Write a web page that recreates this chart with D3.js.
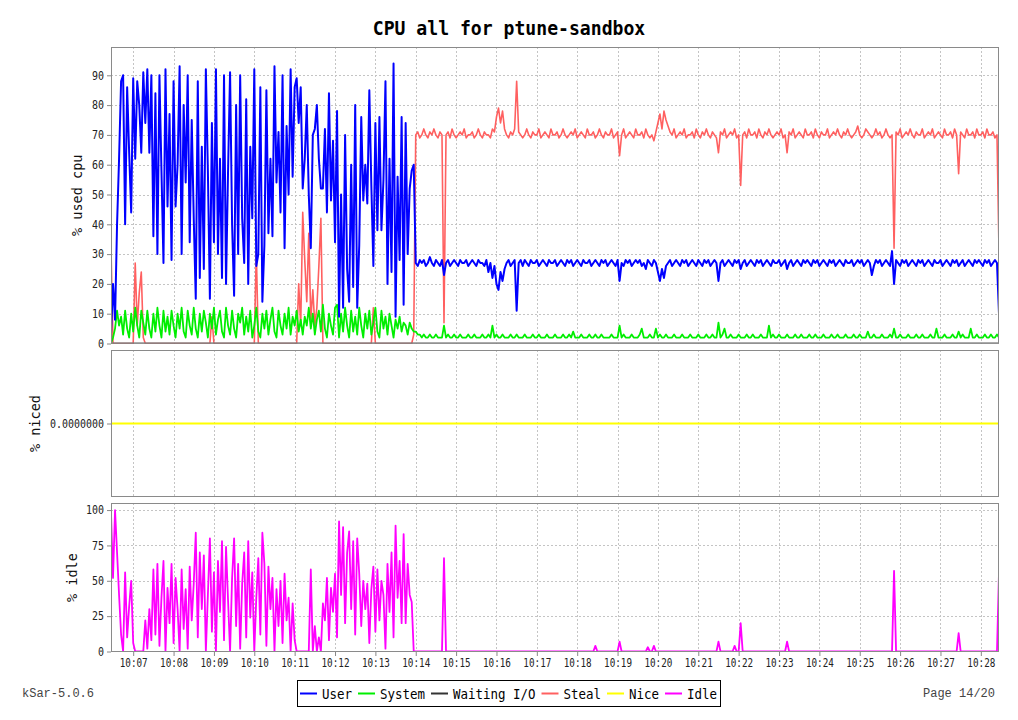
<!DOCTYPE html>
<html><head><meta charset="utf-8">
<script src="https://cdn.jsdelivr.net/npm/d3@7"></script>
<style>body{margin:0;background:#fff;}svg{display:block;}</style>
</head><body>
<svg id="chart" width="1018" height="720"></svg>
<script>
// ---------------- data ----------------
const chartTitle = "CPU all for ptune-sandbox";
const startTime = "10:06:27";
const stepSeconds = 3;
const seriesNames = ["User", "System", "Waiting I/O", "Steal", "Nice", "Idle"];
const seriesColors = ["#0000ff", "#00ee00", "#333333", "#ff6060", "#ffff00", "#ff00ff"];
const usedTicks = [0, 10, 20, 30, 40, 50, 60, 70, 80, 90];
const nicedTicks = [0];
const idleTicks = [0, 25, 50, 75, 100];

const user = [
3,20,8,40,62,88,90,40,86,64, 44,89,62,88,80,64,91,74,92,64, 90,36,84,30,90,58,27,92,46,77,
28,88,46,60,93,30,80,54,90,34, 75,42,15,88,22,66,25,92,58,15, 74,34,92,30,62,22,90,20,58,91,
40,16,80,30,90,42,27,82,20,66, 42,92,26,30,86,14,33,85,37,62, 36,93,54,71,44,90,32,73,50,92,
56,86,89,74,86,52,62,80,50,32, 70,72,80,62,52,52,72,44,84,48, 68,34,78,9,50,12,70,25,14,60,
19,80,12,33,76,48,60,47,85,53, 26,74,38,76,38,55,88,20,62,24, 94,9,56,28,76,13,74,30,52,58,
60,
27,26,28,27,28,26,27,29,27,26, 28,27,26,28,23,27,28,26,27,28, 27,26,28,27,27,28,26,27,28,27,
26,28,27,27,26,28,24,27,22,26, 20,18,24,21,25,27,28,26,27,28, 11,27,28,26,28,27,26,28,27,27,
28,26,27,28,27,26,28,27,27,28, 26,27,28,27,26,28,27,28,26,27, 28,27,26,28,27,27,28,26,27,28,
27,26,28,27,28,26,27,28,27,26, 28,21,27,26,28,27,28,26,27,28, 27,28,26,27,25,28,27,26,28,27,
24,21,25,22,26,27,28,26,27,28, 27,26,28,27,28,26,27,28,27,26, 28,27,26,28,27,28,26,27,28,27,
21,27,28,26,27,28,27,26,28,27, 28,25,27,28,26,27,28,27,26,28, 27,28,26,27,28,27,26,28,27,27,
28,26,27,28,25,27,28,26,27,28, 27,26,28,27,28,27,26,28,27,28, 26,27,28,27,26,28,27,28,26,27,
28,27,26,28,27,27,28,26,27,28, 27,28,26,27,28,27,23,26,28,27, 28,26,27,28,27,26,31,20,28,27,
26,28,27,28,26,27,28,27,26,28, 27,28,26,27,28,27,26,28,27,27, 28,26,27,28,27,26,28,27,28,26,
27,28,26,27,28,27,26,28,27,28, 27,26,28,27,28,26,27,28,27,10
];

const system = [
0,2,5,11,6,9,3,11,5,2, 10,4,12,6,2,11,7,3,11,5, 2,10,4,12,6,2,11,4,9,3,
11,6,2,10,5,12,4,2,11,6, 3,12,5,2,10,4,11,7,2,10, 5,12,3,8,11,4,2,12,6,3,
11,5,2,10,7,12,3,9,4,11, 2,6,12,4,2,10,5,11,3,8, 12,4,2,11,6,3,10,5,12,3,
9,6,11,4,8,3,9,6,12,5, 10,3,8,11,4,13,5,2,10,6, 3,12,13,2,10,4,12,6,2,11,
4,9,3,12,6,2,10,5,11,3, 7,12,4,2,11,5,9,3,10,6, 2,8,5,9,4,7,6,3,7,5,
4,
4,3,3,2,3,2,2,3,2,2, 3,2,2,2,6,2,3,2,2,3, 2,2,3,2,2,2,3,2,2,3,
2,2,2,3,2,2,3,2,6,2, 3,2,2,3,2,2,2,3,2,2, 3,2,2,2,3,2,2,2,3,2,
2,3,2,2,2,3,2,2,2,3, 2,2,2,3,2,2,3,2,4,2, 2,2,3,2,2,2,3,2,2,3,
2,2,3,2,2,2,2,3,2,2, 2,6,2,3,2,2,2,3,2,2, 2,3,5,2,2,2,3,2,2,5,
2,3,2,2,3,2,2,2,3,2, 2,2,3,2,2,2,3,2,2,2, 3,2,2,2,3,2,2,3,2,2,
7,2,3,5,2,2,3,2,2,2, 3,2,2,2,3,2,2,3,2,2, 2,3,2,2,2,6,2,3,2,2,
3,2,2,2,3,2,2,2,3,2, 2,3,2,2,2,3,2,2,3,2, 2,2,3,2,2,2,3,2,2,3,
2,2,2,3,2,2,2,3,2,2, 3,2,2,2,4,2,2,3,2,2, 2,3,2,2,2,3,2,5,2,2,
3,2,2,2,3,2,2,2,3,2, 2,3,2,2,2,3,2,2,5,2, 2,2,3,2,2,2,3,2,2,4,
2,3,2,2,2,5,2,2,3,2, 2,2,3,2,2,3,2,2,3,2
];

const waitIO = [
0,0,0,0,0,0,0,0,0,0, 0,0,0,0,0,0,0,0,0,0, 0,0,0,0,0,0,0,0,0,0, 0,0,0,0,0,0,0,0,0,0,
0,0,0,0,0,0,0,0,0,0, 0,0,0,0,0,0,0,0,0,0, 0,0,0,0,0,0,0,0,0,0, 0,0,0,0,0,0,0,0,0,0,
0,0,0,0,0,0,0,0,0,0, 0,0,0,0,0,0,0,0,0,0, 0,0,0,0,0,0,0,0,0,0, 0,0,0,0,0,0,0,0,0,0,
0,0,0,0,0,0,0,0,0,0, 0,0,0,0,0,0,0,0,0,0, 0,0,0,0,0,0,0,0,0,0, 0,0,0,0,0,0,0,0,0,0,
0,0,0,0,0,0,0,0,0,0, 0,0,0,0,0,0,0,0,0,0, 0,0,0,0,0,0,0,0,0,0, 0,0,0,0,0,0,0,0,0,0,
0,0,0,0,0,0,0,0,0,0, 0,0,0,0,0,0,0,0,0,0, 0,0,0,0,0,0,0,0,0,0, 0,0,0,0,0,0,0,0,0,0,
0,0,0,0,0,0,0,0,0,0, 0,0,0,0,0,0,0,0,0,0, 0,0,0,0,0,0,0,0,0,0, 0,0,0,0,0,0,0,0,0,0,
0,0,0,0,0,0,0,0,0,0, 0,0,0,0,0,0,0,0,0,0, 0,0,0,0,0,0,0,0,0,0, 0,0,0,0,0,0,0,0,0,0,
0,0,0,0,0,0,0,0,0,0, 0,0,0,0,0,0,0,0,0,0, 0,0,0,0,0,0,0,0,0,0, 0,0,0,0,0,0,0,0,0,0,
0,0,0,0,0,0,0,0,0,0, 0,0,0,0,0,0,0,0,0,0, 0,0,0,0,0,0,0,0,0,0, 0,0,0,0,0,0,0,0,0,0,
0,0,0,0,0,0,0,0,0,0, 0,0,0,0,0,0,0,0,0,0, 0,0,0,0,0,0,0,0,0,0, 0,0,0,0,0,0,0,0,0,0,
0
];

const steal = [
32,0,0,0,0,0,0,0,0,0, 0,0,27,6,17,24,2,0,0,0, 0,0,0,0,0,0,0,0,0,0,
0,0,0,0,0,0,0,0,0,0, 0,0,0,0,0,0,0,0,0,0, 9,0,0,0,0,0,0,0,0,0,
0,0,0,0,0,0,0,0,0,0, 0,0,31,0,0,0,0,0,0,0, 0,0,0,0,0,0,0,0,0,0,
0,0,0,20,6,44,28,14,37,8, 18,6,12,26,42,0,0,0,0,0, 0,0,0,0,0,0,0,0,0,0,
0,0,0,0,0,0,0,0,0,0, 12,0,0,0,0,0,0,0,0,0, 0,0,0,0,0,0,0,0,0,0,
3,
70,71,69,70,72,70,69,71,70,72, 70,69,71,70,7,70,71,69,72,70, 69,70,71,70,72,69,70,70,71,69,
70,72,70,69,71,70,70,69,72,71, 76,79,74,78,72,70,69,71,70,72, 88,71,70,69,70,72,70,69,71,70,
70,72,69,70,71,70,69,72,70,70, 71,69,70,72,70,69,70,71,70,72, 69,70,71,70,69,72,70,70,71,69,
70,72,70,69,71,70,70,72,69,70, 71,63,70,72,69,70,71,70,69,72, 70,70,71,69,72,70,69,70,68,71,
74,77,72,78,75,73,71,70,72,69, 70,71,70,72,69,70,70,71,69,72, 70,69,71,70,72,70,69,71,70,69,
64,71,70,72,69,70,71,70,72,69, 70,53,70,71,69,72,70,70,71,69, 72,70,69,71,70,72,70,69,70,71,
70,72,69,70,64,71,70,72,69,70, 71,70,69,72,70,70,71,69,72,70, 69,71,70,70,72,69,70,71,70,72,
70,69,71,70,72,70,69,70,71,73, 70,69,70,72,71,70,69,70,72,70, 71,69,70,72,70,69,70,32,71,70,
72,69,70,71,70,72,70,69,71,70, 70,72,69,70,71,70,72,69,70,71, 70,69,72,70,70,71,69,72,70,57,
71,70,69,72,70,70,71,69,72,70, 70,71,69,72,70,70,71,69,70,31
];

const nice = [
0,0,0,0,0,0,0,0,0,0, 0,0,0,0,0,0,0,0,0,0, 0,0,0,0,0,0,0,0,0,0, 0,0,0,0,0,0,0,0,0,0,
0,0,0,0,0,0,0,0,0,0, 0,0,0,0,0,0,0,0,0,0, 0,0,0,0,0,0,0,0,0,0, 0,0,0,0,0,0,0,0,0,0,
0,0,0,0,0,0,0,0,0,0, 0,0,0,0,0,0,0,0,0,0, 0,0,0,0,0,0,0,0,0,0, 0,0,0,0,0,0,0,0,0,0,
0,0,0,0,0,0,0,0,0,0, 0,0,0,0,0,0,0,0,0,0, 0,0,0,0,0,0,0,0,0,0, 0,0,0,0,0,0,0,0,0,0,
0,0,0,0,0,0,0,0,0,0, 0,0,0,0,0,0,0,0,0,0, 0,0,0,0,0,0,0,0,0,0, 0,0,0,0,0,0,0,0,0,0,
0,0,0,0,0,0,0,0,0,0, 0,0,0,0,0,0,0,0,0,0, 0,0,0,0,0,0,0,0,0,0, 0,0,0,0,0,0,0,0,0,0,
0,0,0,0,0,0,0,0,0,0, 0,0,0,0,0,0,0,0,0,0, 0,0,0,0,0,0,0,0,0,0, 0,0,0,0,0,0,0,0,0,0,
0,0,0,0,0,0,0,0,0,0, 0,0,0,0,0,0,0,0,0,0, 0,0,0,0,0,0,0,0,0,0, 0,0,0,0,0,0,0,0,0,0,
0,0,0,0,0,0,0,0,0,0, 0,0,0,0,0,0,0,0,0,0, 0,0,0,0,0,0,0,0,0,0, 0,0,0,0,0,0,0,0,0,0,
0,0,0,0,0,0,0,0,0,0, 0,0,0,0,0,0,0,0,0,0, 0,0,0,0,0,0,0,0,0,0, 0,0,0,0,0,0,0,0,0,0,
0,0,0,0,0,0,0,0,0,0, 0,0,0,0,0,0,0,0,0,0, 0,0,0,0,0,0,0,0,0,0, 0,0,0,0,0,0,0,0,0,0,
0
];

const idle = [
98,52,100,70,40,12,0,56,10,32, 50,6,0,0,0,0,0,22,2,30, 8,58,12,62,4,38,64,0,45,20,
62,6,52,30,0,58,16,44,2,60, 22,48,84,10,70,30,68,0,40,80, 14,56,0,64,28,78,8,74,36,0,
52,80,18,62,2,48,70,10,78,24, 56,0,38,66,12,84,62,4,60,30, 52,0,44,18,50,6,55,22,38,0,
34,8,0,0,0,0,0,0,0,58, 0,18,0,10,0,34,22,52,8,45, 28,55,10,92,40,88,20,70,85,30,
78,12,80,55,18,50,30,48,6,44, 60,14,58,22,50,40,2,62,28,70, 10,89,38,64,20,83,20,62,40,35,
0,
0,0,0,0,0,0,0,0,0,0, 0,0,0,0,66,0,0,0,0,0, 0,0,0,0,0,0,0,0,0,0,
0,0,0,0,0,0,0,0,0,0, 0,0,0,0,0,0,0,0,0,0, 0,0,0,0,0,0,0,0,0,0,
0,0,0,0,0,0,0,0,0,0, 0,0,0,0,0,0,0,0,0,0, 0,0,0,0,0,0,0,0,0,4,
0,0,0,0,0,0,0,0,0,0, 0,7,0,0,0,0,0,0,0,0, 0,0,0,0,0,3,0,0,4,0,
0,0,0,0,0,0,0,0,0,0, 0,0,0,0,0,0,0,0,0,0, 0,0,0,0,0,0,0,0,0,0,
7,0,0,0,0,0,0,0,4,0, 0,20,0,0,0,0,0,0,0,0, 0,0,0,0,0,0,0,0,0,0,
0,0,0,0,7,0,0,0,0,0, 0,0,0,0,0,0,0,0,0,0, 0,0,0,0,0,0,0,0,0,0,
0,0,0,0,0,0,0,0,0,0, 0,0,0,0,0,0,0,0,0,0, 0,0,0,0,0,0,0,57,0,0,
0,0,0,0,0,0,0,0,0,0, 0,0,0,0,0,0,0,0,0,0, 0,0,0,0,0,0,0,0,0,13,
0,0,0,0,0,0,0,0,0,0, 0,0,0,0,0,0,0,0,0,56
];

// ---------------- drawing ----------------
const mono = "'DejaVu Sans Mono', monospace";
const svg = d3.select("#chart");
svg.append("rect").attr("width", 1018).attr("height", 720).attr("fill", "#fff");

const t0 = d3.timeParse("%H:%M:%S")(startTime);
const times = user.map((d, i) => d3.timeSecond.offset(t0, i * stepSeconds));
const plotL = 111, plotR = 999;
const x = d3.scaleTime().domain([times[0], times[times.length - 1]]).range([plotL, plotR]);
const minuteTicks = x.ticks(d3.timeMinute.every(1));

function condense(sel, perChar) {
  sel.each(function () {
    const t = d3.select(this);
    const s = t.text();
    t.attr("textLength", s.length * perChar).attr("lengthAdjust", "spacingAndGlyphs");
  });
}

const widths = [2, 1.8, 1.6, 1.6];
const panels = [
  { top: 47, bottom: 343.5, y: d3.scaleLinear().domain([0, 99.5]).range([343.5, 47]),
    ticks: usedTicks, fmt: d3.format("d"), label: "% used cpu", labelX: 82, hgrid: true,
    series: [3, 2, 1, 0].map(k => ({ vals: [user, system, waitIO, steal][k], color: seriesColors[k], width: widths[k] })) },
  { top: 350, bottom: 497, y: d3.scaleLinear().domain([-1, 1]).range([497, 350]),
    ticks: nicedTicks, fmt: d3.format(".7f"), label: "% niced", labelX: 40, hgrid: false,
    series: [{ vals: nice, color: seriesColors[4], width: 2 }] },
  { top: 503, bottom: 652, y: d3.scaleLinear().domain([0, 105]).range([651.5, 503]),
    ticks: idleTicks, fmt: d3.format("d"), label: "% idle", labelX: 77, hgrid: true,
    series: [{ vals: idle, color: seriesColors[5], width: 1.8 }] }
];

panels.forEach((p, pi) => {
  const g = svg.append("g");
  const clipId = "clip" + pi;
  svg.append("clipPath").attr("id", clipId).append("rect")
    .attr("x", plotL).attr("y", p.top).attr("width", plotR - plotL).attr("height", p.bottom - p.top);

  g.selectAll(".vg").data(minuteTicks).join("line")
    .attr("x1", d => Math.round(x(d)) + 0.5).attr("x2", d => Math.round(x(d)) + 0.5)
    .attr("y1", p.top).attr("y2", p.bottom)
    .attr("stroke", "#c4c4c4").attr("stroke-dasharray", "2,2");
  if (p.hgrid) {
    g.selectAll(".hg").data(p.ticks.filter(v => v > 0)).join("line")
      .attr("x1", plotL).attr("x2", plotR)
      .attr("y1", d => Math.round(p.y(d)) + 0.5).attr("y2", d => Math.round(p.y(d)) + 0.5)
      .attr("stroke", "#c4c4c4").attr("stroke-dasharray", "2,2");
  }

  const ax = g.append("g").attr("transform", `translate(${plotL},0)`)
    .call(d3.axisLeft(p.y).tickValues(p.ticks).tickFormat(p.fmt).tickSize(4).tickPadding(3));
  ax.select(".domain").remove();
  ax.selectAll(".tick line").attr("stroke", "#888");
  ax.selectAll("text").attr("font-family", mono).attr("font-size", 12).attr("fill", "#222");
  condense(ax.selectAll("text"), 6);

  svg.append("text").attr("transform", `translate(${p.labelX},${(p.top + p.bottom) / 2}) rotate(-90)`)
    .attr("text-anchor", "middle").attr("font-family", mono).attr("font-size", 13.5)
    .attr("fill", "#111").text(p.label);

  const line = d3.line().x((d, i) => x(times[i])).y(d => p.y(d));
  p.series.forEach(s => {
    g.append("path").attr("clip-path", `url(#${clipId})`)
      .attr("d", line(s.vals)).attr("fill", "none")
      .attr("stroke", s.color).attr("stroke-width", s.width || 1.6)
      .attr("stroke-linejoin", "round");
  });

  g.append("rect").attr("x", plotL + 0.5).attr("y", p.top + 0.5)
    .attr("width", plotR - plotL - 1).attr("height", p.bottom - p.top - 1)
    .attr("fill", "none").attr("stroke", "#8a8a8a");
});

const xa = svg.append("g").attr("transform", "translate(0,652)")
  .call(d3.axisBottom(x).tickValues(minuteTicks).tickFormat(d3.timeFormat("%H:%M")).tickSize(4).tickPadding(2));
xa.select(".domain").remove();
xa.selectAll(".tick line").attr("stroke", "#888");
xa.selectAll("text").attr("font-family", mono).attr("font-size", 12.5).attr("fill", "#222");
condense(xa.selectAll("text"), 5.6);

svg.append("text").attr("x", 509).attr("y", 35).attr("text-anchor", "middle")
  .attr("font-family", mono).attr("font-weight", "bold").attr("font-size", 20)
  .attr("fill", "#000").text(chartTitle)
  .call(s => condense(s, 10.9));

svg.append("text").attr("x", 22).attr("y", 697).attr("font-family", "'Liberation Mono', monospace")
  .attr("font-size", 12).attr("fill", "#444").text("kSar-5.0.6");
svg.append("text").attr("x", 995).attr("y", 697).attr("text-anchor", "end")
  .attr("font-family", "'Liberation Mono', monospace").attr("font-size", 12).attr("fill", "#444").text("Page 14/20");

const lg = svg.append("g");
lg.append("rect").attr("x", 297.5).attr("y", 680.5).attr("width", 423).attr("height", 26)
  .attr("fill", "#fff").attr("stroke", "#000");
let lx = 300;
const charW = 7.5;
seriesNames.forEach((name, k) => {
  lg.append("line").attr("x1", lx).attr("x2", lx + 17).attr("y1", 693.5).attr("y2", 693.5)
    .attr("stroke", seriesColors[k]).attr("stroke-width", 2);
  const t = lg.append("text").attr("x", lx + 22).attr("y", 698.5)
    .attr("font-family", mono).attr("font-size", 13.5).attr("fill", "#000").text(name);
  condense(t, charW);
  lx += 22 + name.length * charW + 6;
});
</script>
</body></html>
